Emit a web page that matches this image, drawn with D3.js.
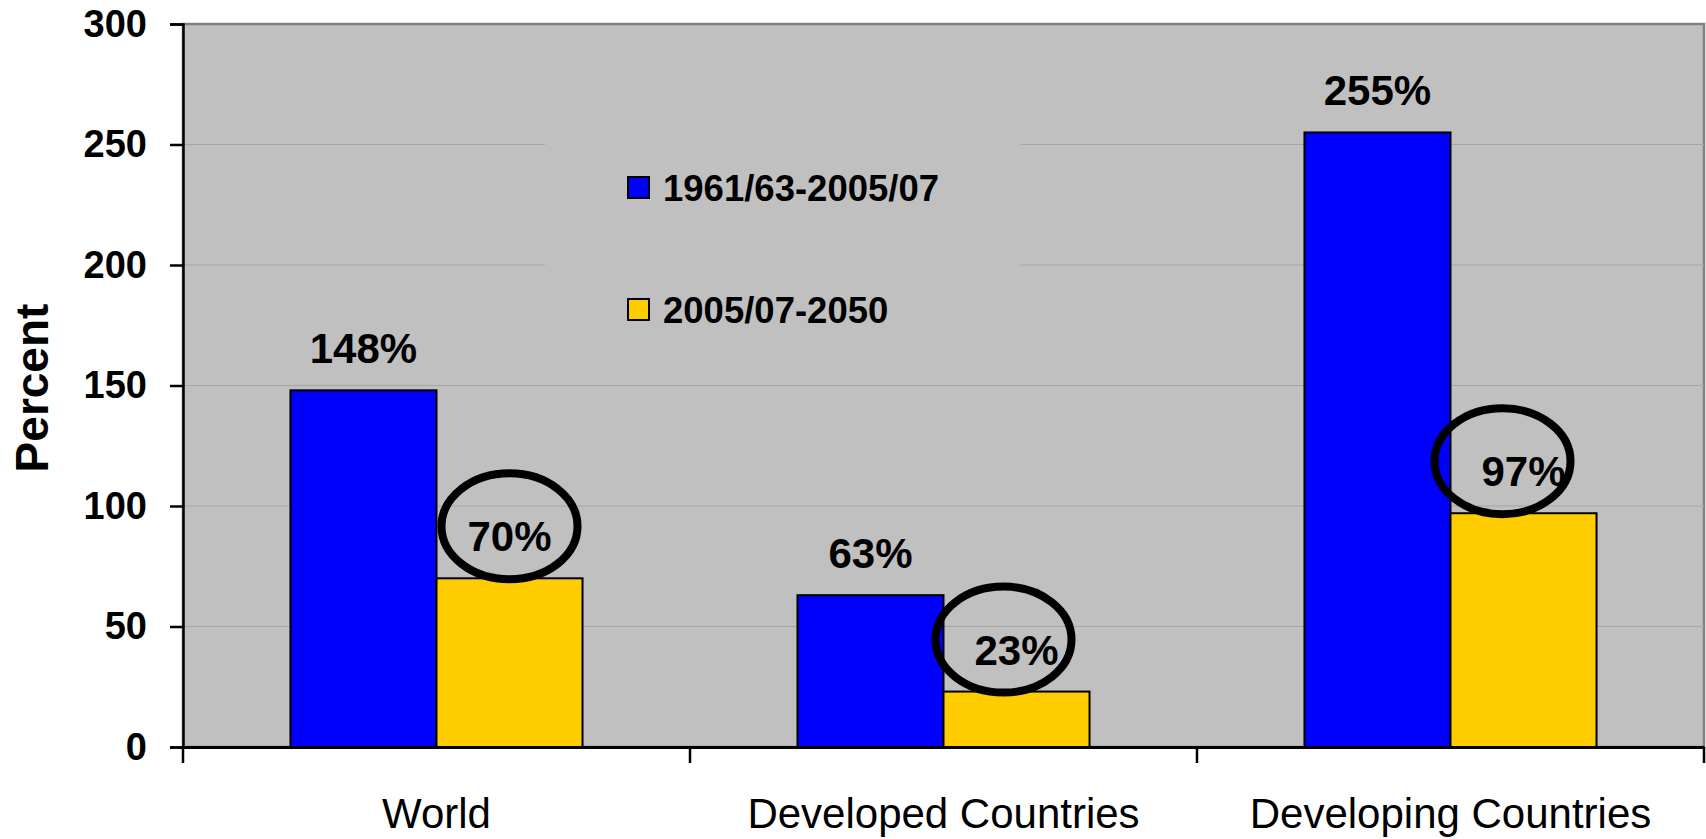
<!DOCTYPE html>
<html>
<head>
<meta charset="utf-8">
<script src="https://cdn.jsdelivr.net/npm/d3@7"></script>
<style>
  html, body { margin: 0; padding: 0; background: #fff; }
  svg { display: block; font-family: "Liberation Sans", Arial, sans-serif; }
</style>
</head>
<body>
<svg width="1706" height="839"></svg>
<script>
// data
const categories = ["World", "Developed Countries", "Developing Countries"]
const seriesNames = ["1961/63-2005/07", "2005/07-2050"]
const earlierGrowth = [148, 63, 255]
const laterGrowth = [70, 23, 97]
const yTicks = [0, 50, 100, 150, 200, 250, 300]

const colors = ["#0000ff", "#ffcc00"]

const svg = d3.select("svg")
const plot = { left: 183, right: 1704, top: 24, bottom: 747 }

// scales
const x = d3.scaleBand()
  .domain(categories)
  .range([plot.left, plot.right])
  .paddingInner(0).paddingOuter(0)

const xSub = d3.scaleBand()
  .domain(seriesNames)
  .range([0, x.bandwidth()])
  .paddingInner(0).paddingOuter(0.736)

const y = d3.scaleLinear()
  .domain([0, 300])
  .range([plot.bottom, plot.top])

const rows = categories.map((c, i) => ({
  cat: c,
  vals: [earlierGrowth[i], laterGrowth[i]]
}))

// plot background
svg.append("rect")
  .attr("x", plot.left).attr("y", plot.top)
  .attr("width", plot.right - plot.left)
  .attr("height", plot.bottom - plot.top)
  .attr("fill", "#c0c0c0")
  .attr("stroke", "#808080")
  .attr("stroke-width", 2.5)

// gridlines
svg.append("g").selectAll("line")
  .data(yTicks.filter(d => d > 0 && d < 300))
  .join("line")
    .attr("x1", plot.left).attr("x2", plot.right)
    .attr("y1", d => y(d)).attr("y2", d => y(d))
    .attr("stroke", "#a6a6a6")
    .attr("stroke-width", 1.2)

// legend box (same fill as plot, hides grid behind it)
const legend = svg.append("g")
legend.append("rect")
  .attr("x", 545).attr("y", 118)
  .attr("width", 475).attr("height", 235)
  .attr("fill", "#c0c0c0")

seriesNames.forEach((s, i) => {
  const row = legend.append("g")
    .attr("transform", `translate(628,${177 + i * 122})`)
  row.append("rect")
    .attr("width", 21).attr("height", 21)
    .attr("fill", colors[i])
    .attr("stroke", "#000")
    .attr("stroke-width", 2)
  row.append("text")
    .attr("x", 35).attr("y", 24)
    .style("font-size", "36.5px").style("font-weight", "bold")
    .text(s)
})

// bars
const groups = svg.append("g").selectAll("g")
  .data(rows)
  .join("g")
    .attr("transform", d => `translate(${x(d.cat)},0)`)

groups.selectAll("rect")
  .data(d => d.vals.map((v, j) => ({ v, j })))
  .join("rect")
    .attr("x", d => xSub(seriesNames[d.j]))
    .attr("y", d => y(d.v))
    .attr("width", xSub.bandwidth())
    .attr("height", d => y(0) - y(d.v))
    .attr("fill", d => colors[d.j])
    .attr("stroke", "#000")
    .attr("stroke-width", 2)

// value labels
groups.selectAll("text.val")
  .data(d => d.vals.map((v, j) => ({ v, j })))
  .join("text")
    .attr("class", "val")
    .attr("x", d => xSub(seriesNames[d.j]) + xSub.bandwidth() / 2)
    .attr("y", d => y(d.v) - 27)
    .attr("text-anchor", "middle")
    .style("font-size", "42px").style("font-weight", "bold")
    .text(d => d.v + "%")

// hand drawn rings round the later-period labels
const ringNudge = [0, -13, -21]
groups.append("ellipse")
  .attr("cx", (d, i) => xSub(seriesNames[1]) + xSub.bandwidth() / 2 + ringNudge[i])
  .attr("cy", d => y(d.vals[1]) - 52)
  .attr("rx", 68).attr("ry", 53)
  .attr("fill", "none")
  .attr("stroke", "#000")
  .attr("stroke-width", 8)

// y axis
const yAxis = svg.append("g")
  .attr("transform", `translate(${plot.left},0)`)
  .call(d3.axisLeft(y).tickValues(yTicks).tickSize(13).tickPadding(23))
yAxis.select(".domain").attr("stroke", "#000").attr("stroke-width", 2.5)
yAxis.selectAll(".tick line").attr("stroke", "#000").attr("stroke-width", 2.5)
yAxis.selectAll(".tick text")
  .style("font-size", "38px").style("font-weight", "bold")
  .style("font-family", "'Liberation Sans', Arial, sans-serif")
  .attr("fill", "#000")

// x axis
const xAxis = svg.append("g")
  .attr("transform", `translate(0,${plot.bottom})`)
  .call(d3.axisBottom(x).tickSize(0).tickPadding(51))
xAxis.select(".domain").attr("stroke", "#000").attr("stroke-width", 3)
xAxis.selectAll(".tick text")
  .style("font-size", "42px")
  .style("font-family", "'Liberation Sans', Arial, sans-serif")
  .attr("fill", "#000")

// x ticks at category boundaries
const edges = categories.map(c => x(c)).concat([plot.right])
xAxis.append("g").selectAll("line")
  .data(edges)
  .join("line")
    .attr("x1", d => d).attr("x2", d => d)
    .attr("y1", 0).attr("y2", 16)
    .attr("stroke", "#000")
    .attr("stroke-width", 2.5)

// y axis title
svg.append("text")
  .attr("transform", "translate(48,388) rotate(-90)")
  .attr("text-anchor", "middle")
  .style("font-size", "46px").style("font-weight", "bold")
  .text("Percent")
</script>
</body>
</html>
